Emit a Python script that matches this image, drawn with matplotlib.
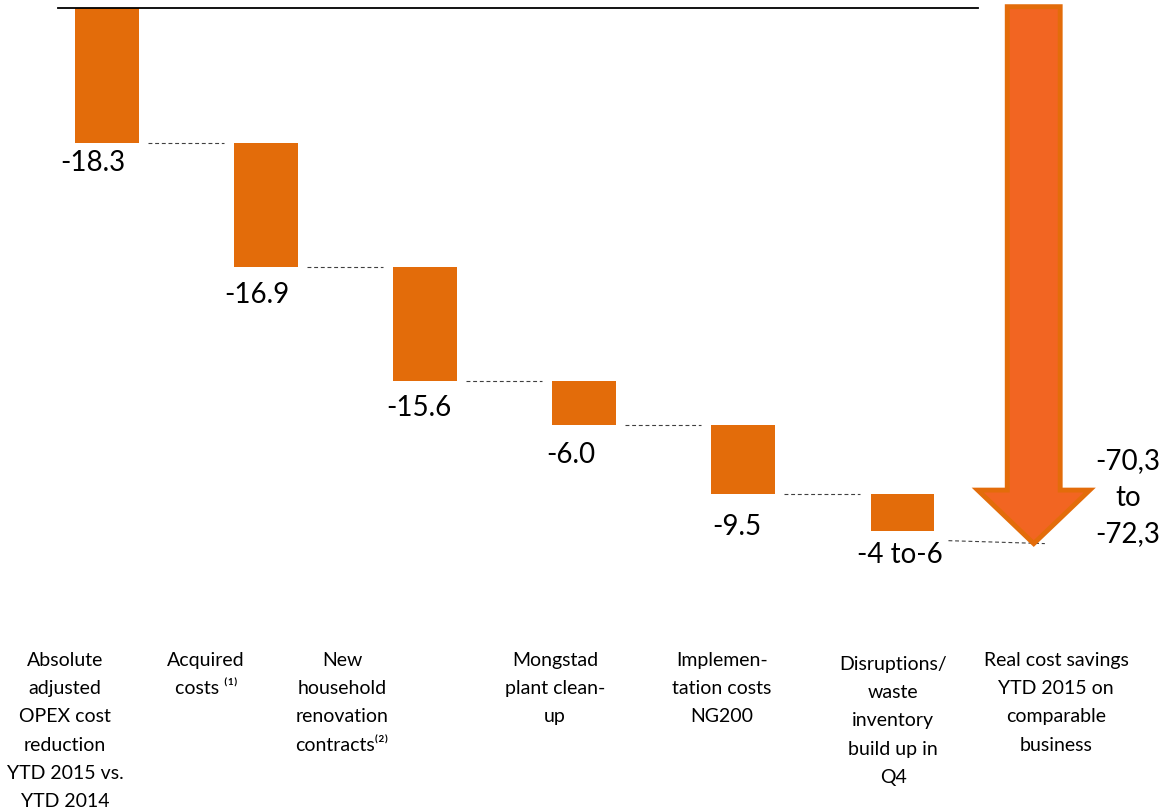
import numpy as np
import matplotlib.pyplot as plt
from matplotlib.patches import FancyArrow

plt.rcParams['font.family'] = ['Lato', 'DejaVu Sans']

# data
categories = [
    'Absolute\nadjusted\nOPEX cost\nreduction\nYTD 2015 vs.\nYTD 2014',
    'Acquired\ncosts \u207d\u00b9\u207e',
    'New\nhousehold\nrenovation\ncontracts\u207d\u00b2\u207e',
    'Mongstad\nplant clean-\nup',
    'Implemen-\ntation costs\nNG200',
    'Disruptions/\nwaste\ninventory\nbuild up in\nQ4',
    'Real cost savings\nYTD 2015 on\ncomparable\nbusiness',
]
steps = [18.3, 16.9, 15.6, 6.0, 9.5, 5.0]   # last one is the middle of "4 to 6"
value_labels = ['-18.3', '-16.9', '-15.6', '-6.0', '-9.5', '-4 to-6']
total_label = '-70,3\nto\n-72,3'
arrow_tip = 73.0

# layout
bar_color = '#E36C0A'
arrow_fill = '#F26522'
bar_w = 0.4
arrow_x = 5.826
label_nudge = [(-14, -19), (-9, -27), (-6, -26), (-13, -29), (-6, -32), (-2, -23)]
cat_px = [65, 206, 342, 555, 722, 893, 1056]
cat_top = [652, 652, 652, 652, 652, 656, 652]

fig = plt.figure(figsize=(11.64, 8.12), dpi=100)
ax = fig.add_axes([0, 0, 1, 1])
ax.set_xlim(-0.6726, 6.645)
ax.set_ylim(-109.48, 1.296)
ax.axis('off')

x = np.arange(len(steps))
steps = np.array(steps)
tops = -np.concatenate([[0], np.cumsum(steps)[:-1]])
bottoms = tops - steps
ax.bar(x, -steps, bottom=tops, width=bar_w, color=bar_color, zorder=2)

# dashed connectors
for i in range(len(steps) - 1):
    ax.plot([x[i] + bar_w / 2 + 0.057, x[i + 1] - bar_w / 2 - 0.063],
            [bottoms[i], bottoms[i]], color='#404040', lw=0.8,
            dashes=[3.5, 2.5], zorder=1)
ax.plot([x[-1] + bar_w / 2 + 0.09, arrow_x + 0.07],
        [-(arrow_tip - 0.4), -arrow_tip], color='#404040', lw=0.8,
        dashes=[3.5, 2.5], zorder=1)

# zero line
ax.plot([-0.31, arrow_x - 0.352], [0, 0], color='black', lw=1.3, zorder=3)

# total arrow
arr = FancyArrow(arrow_x, 0.25, 0, -(arrow_tip + 0.25), width=0.333,
                 head_width=0.704, head_length=7.3, length_includes_head=True,
                 fc=arrow_fill, ec=bar_color, lw=3.5, joinstyle='miter', zorder=2)
ax.add_patch(arr)

for i, lbl in enumerate(value_labels):
    ax.annotate(lbl, (x[i], bottoms[i]), xytext=label_nudge[i],
                textcoords='offset pixels', ha='center', va='center',
                fontsize=20, color='black')

ax.text(arrow_x + 0.592, -66.6, total_label, ha='center', va='center',
        fontsize=20, linespacing=1.5)

for txt, px, py in zip(categories, cat_px, cat_top):
    fig.text(px / 1164, 1 - py / 812, txt, ha='center', va='top',
             fontsize=14, linespacing=1.8)

fig.savefig('out.png', dpi=100)
